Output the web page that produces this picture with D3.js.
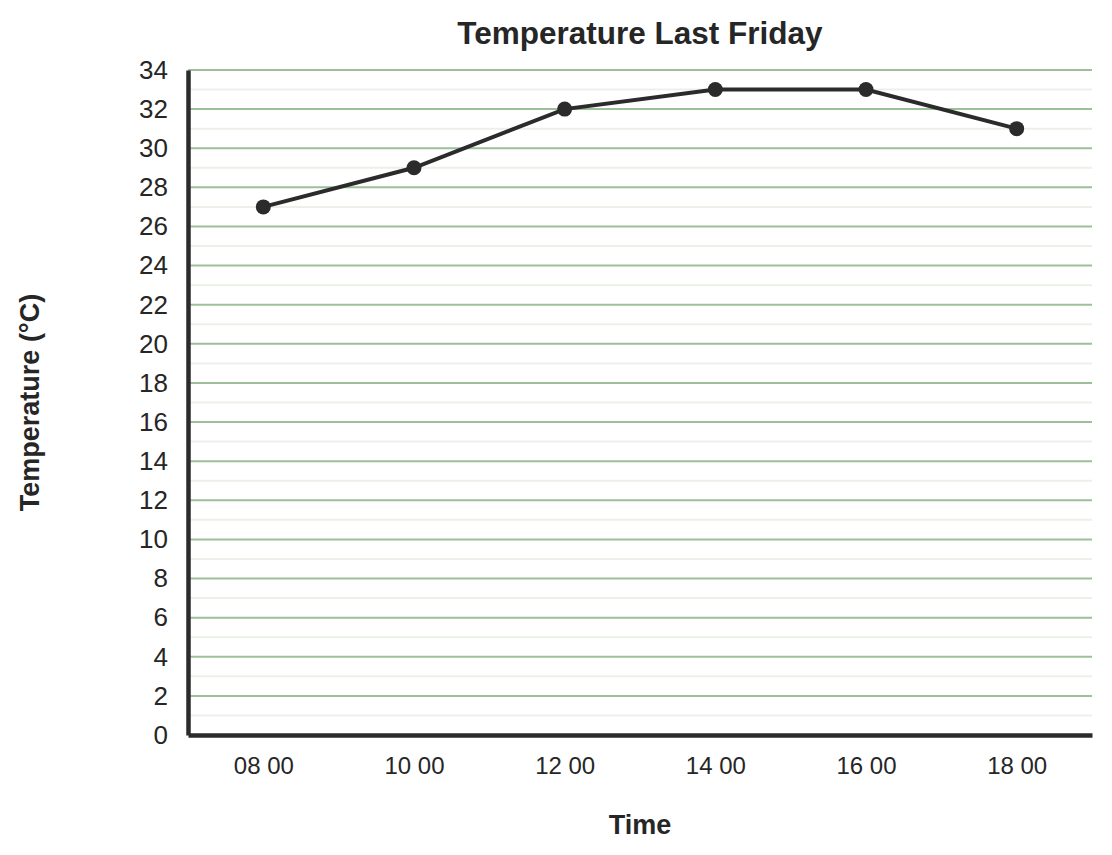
<!DOCTYPE html>
<html>
<head>
<meta charset="utf-8">
<script src="https://cdn.jsdelivr.net/npm/d3@7"></script>
<style>
  body { margin: 0; background: #fff; }
  text { fill: #262626; }
</style>
</head>
<body>
<script>
    // chart data
    const times = ["08 00", "10 00", "12 00", "14 00", "16 00", "18 00"];
    const temps = [27, 29, 32, 33, 33, 31];
    const yTicks = [0, 2, 4, 6, 8, 10, 12, 14, 16, 18, 20, 22, 24, 26, 28, 30, 32, 34];
    const minorTicks = [1, 3, 5, 7, 9, 11, 13, 15, 17, 19, 21, 23, 25, 27, 29, 31, 33];

    const FONT = "'Liberation Sans', Arial, sans-serif";

    const margin = {top: 70, right: 20, bottom: 120, left: 188};
    const width = 1112 - margin.left - margin.right;
    const height = 855 - margin.top - margin.bottom;

    var svg = d3.select("body")
                .append("svg")
                .attr("width", 1112)
                .attr("height", 855)

    var g = svg.append("g")
               .attr("transform", "translate(" + margin.left + "," + margin.top + ")")

    var x = d3.scalePoint()
              .domain(times)
              .range([0, width])
              .padding(0.5)

    var y = d3.scaleLinear()
              .domain([0, 34])
              .range([height, 0])

    // minor grid
    g.append("g")
     .selectAll("line")
     .data(minorTicks)
     .enter()
     .append("line")
     .attr("x1", 0)
     .attr("x2", width)
     .attr("y1", function(d){ return y(d) })
     .attr("y2", function(d){ return y(d) })
     .attr("stroke", "#ebf1e9")
     .attr("stroke-width", 2)

    // major grid
    g.append("g")
     .selectAll("line")
     .data(yTicks.filter(function(d){ return d > 0 }))
     .enter()
     .append("line")
     .attr("x1", 0)
     .attr("x2", width)
     .attr("y1", function(d){ return y(d) })
     .attr("y2", function(d){ return y(d) })
     .attr("stroke", "#9dbf99")
     .attr("stroke-width", 2)

    var yAxis = g.append("g")
                 .call(d3.axisLeft(y).tickValues(yTicks).tickSize(0).tickPadding(20))
    yAxis.select(".domain").attr("stroke", "#2b2b2b").attr("stroke-width", 4.5)
    yAxis.selectAll("text")
         .style("font-family", FONT)
         .style("font-size", "26px")
         .attr("fill", "#262626")

    var xAxis = g.append("g")
                 .attr("transform", "translate(0," + height + ")")
                 .call(d3.axisBottom(x).tickSize(0).tickPadding(22))
    xAxis.select(".domain").attr("stroke", "#2b2b2b").attr("stroke-width", 4.5)
    xAxis.selectAll("text")
         .style("font-family", FONT)
         .style("font-size", "24px")
         .attr("fill", "#262626")

    var line = d3.line()
                 .x(function(d, i){ return x(times[i]) })
                 .y(function(d){ return y(d) })

    g.append("path")
     .datum(temps)
     .attr("d", line)
     .attr("fill", "none")
     .attr("stroke", "#2b2b2b")
     .attr("stroke-width", 4)

    g.selectAll(".dot")
     .data(temps)
     .enter()
     .append("circle")
     .attr("class", "dot")
     .attr("cx", function(d, i){ return x(times[i]) })
     .attr("cy", function(d){ return y(d) })
     .attr("r", 7.5)
     .attr("fill", "#2b2b2b")

    // titles
    svg.append("text")
       .attr("x", margin.left + width / 2)
       .attr("y", 44)
       .attr("text-anchor", "middle")
       .style("font-family", FONT)
       .style("font-weight", "bold")
       .style("font-size", "31.5px")
       .text("Temperature Last Friday")

    svg.append("text")
       .attr("transform", "translate(39," + (margin.top + height / 2) + ") rotate(-90)")
       .attr("text-anchor", "middle")
       .style("font-family", FONT)
       .style("font-weight", "bold")
       .style("font-size", "27px")
       .text("Temperature (°C)")

    svg.append("text")
       .attr("x", margin.left + width / 2)
       .attr("y", 834)
       .attr("text-anchor", "middle")
       .style("font-family", FONT)
       .style("font-weight", "bold")
       .style("font-size", "27px")
       .text("Time")
</script>
</body>
</html>
